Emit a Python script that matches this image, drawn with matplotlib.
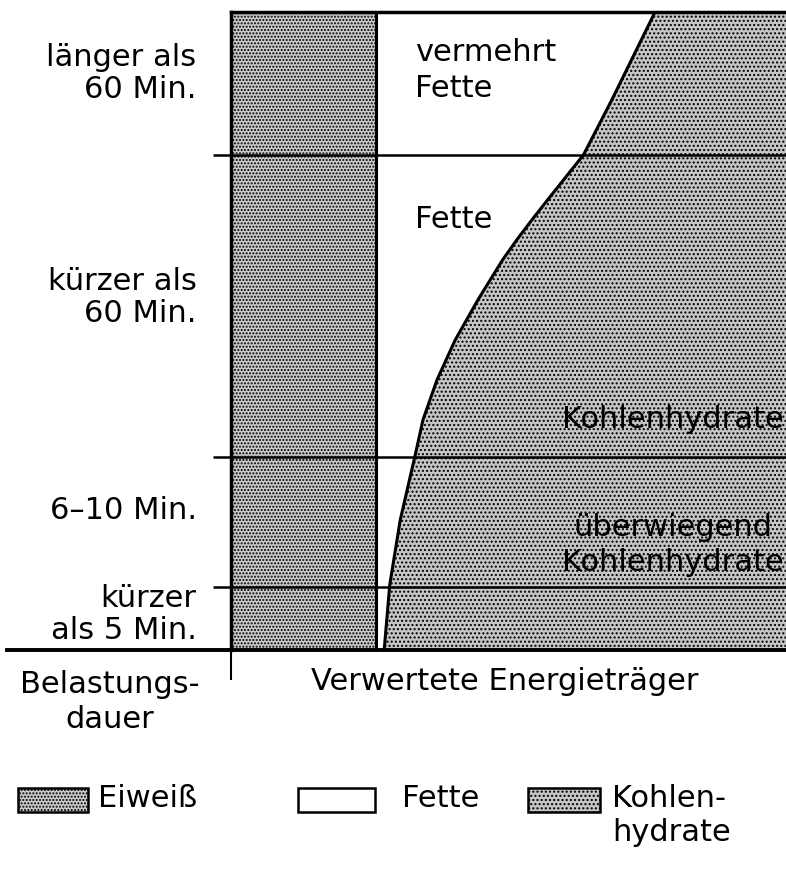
import matplotlib.pyplot as plt
from matplotlib.patches import Rectangle

plt.rcParams['font.family'] = ['DejaVu Sans']
plt.rcParams['hatch.linewidth'] = 1.0
plt.rcParams['hatch.color'] = 'black'

# Belastungsdauer (bottom to top) and row boundaries in % of chart height
row_labels = ["kürzer\nals 5 Min.", "6–10 Min.", "kürzer als\n60 Min.", "länger als\n60 Min."]
row_edges = [0, 9.9, 30.3, 77.6, 100]

# share of the energy carriers in % of width
eiweiss_share = 26.1
curve_y = [0, 10.2, 20.4, 30.6, 36.1, 42.3, 48.6, 54.9, 61.1, 64.3, 67.4, 70.5, 77.6, 86.2, 100]
curve_x = [27.6, 28.6, 30.5, 33.2, 34.6, 37.1, 40.4, 44.5, 48.9, 51.5, 54.2, 57.0, 63.5, 68.6, 76.4]

fs = 22
eiw_style = dict(facecolor='#cbcbcb', edgecolor='black', hatch='.....', linewidth=0)
kh_style = dict(facecolor='#c6c6c6', edgecolor='black', hatch='....', linewidth=0)

fig = plt.figure(figsize=(7.86, 8.76), dpi=100)
ax = fig.add_axes([231 / 786, 226 / 876, 555 / 786, 638 / 876])
ax.set_xlim(0, 100)
ax.set_ylim(0, 100)

# Eiweiss column
ax.fill_betweenx([0, 100], 0, eiweiss_share, **eiw_style)
ax.axvline(eiweiss_share, color='black', lw=2.2)

# Kohlenhydrate right of the curve, Fette stays white
ax.fill_betweenx(curve_y, curve_x, 100, **kh_style)
ax.plot(curve_x, curve_y, color='black', lw=2.2)

# row boundaries
for y in row_edges[1:-1]:
    ax.axhline(y, color='black', lw=1.8)

for side in ['right', 'bottom']:
    ax.spines[side].set_visible(False)
ax.spines['top'].set_linewidth(2.5)
ax.spines['left'].set_linewidth(2.5)

# long base line and small divider below the chart
ax.plot([-0.403, 1], [0, 0], transform=ax.transAxes, color='black', lw=2.8, clip_on=False)
ax.plot([0, 0], [0, -0.045], transform=ax.transAxes, color='black', lw=1.5, clip_on=False)

ax.set_yticks([])
ax.set_yticks(row_edges[1:-1], minor=True)
ax.tick_params(axis='y', which='minor', length=13, width=1.8)
ax.set_xticks([])

label_y = [5.6, 21.9, 55.2, 90.4]
for lab, y in zip(row_labels, label_y):
    ax.text(-0.062, y, lab, transform=ax.get_yaxis_transform(), fontsize=fs,
            ha='right', va='center', linespacing=1.12)

ax.text(33.2, 90.8, "vermehrt\nFette", fontsize=fs, va='center', ha='left', linespacing=1.3)
ax.text(33.2, 67.4, "Fette", fontsize=fs, va='center', ha='left')
ax.text(99.6, 36.1, "Kohlenhydrate", fontsize=fs, va='center', ha='right')
ax.text(99.6, 16.5, "überwiegend\nKohlenhydrate", fontsize=fs, va='center', ha='right',
        multialignment='center', linespacing=1.25)

fig.text(110 / 786, 1 - 702 / 876, "Belastungs-\ndauer", fontsize=fs, ha='center', va='center',
         linespacing=1.25)
fig.text(505 / 786, 1 - 682 / 876, "Verwertete Energieträger", fontsize=fs, ha='center', va='center')

# legend
legend_items = [("Eiweiß", eiw_style, 18, 70, 98),
                ("Fette", dict(facecolor='white', edgecolor='black'), 298, 77, 402),
                ("Kohlen-\nhydrate", kh_style, 528, 72, 612)]
for label, style, x0, w, tx in legend_items:
    st = dict(style)
    st['linewidth'] = 1.8
    fig.add_artist(Rectangle((x0 / 786, 1 - 812 / 876), w / 786, 24 / 876,
                             transform=fig.transFigure, **st))
    fig.text(tx / 786, 1 - 784 / 876, label, fontsize=fs, ha='left', va='top', linespacing=1.2)

fig.savefig('out.png', dpi=100)
